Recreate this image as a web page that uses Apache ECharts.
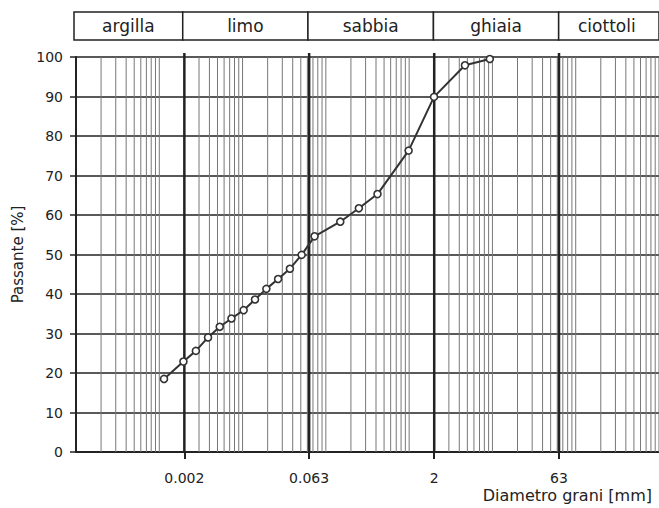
<!DOCTYPE html>
<html>
<head>
<meta charset="utf-8">
<script src="https://cdn.jsdelivr.net/npm/echarts@6/dist/echarts.min.js"></script>
<style>
html,body{margin:0;padding:0;background:#fff;}
#chart{width:659px;height:508px;}
</style>
</head>
<body>
<div id="chart"></div>
<script>
// ---- data ----
const grainSize = [0.00114, 0.00195, 0.00275, 0.00385, 0.00532, 0.00736, 0.0103, 0.0141, 0.0193, 0.0267, 0.037, 0.0512, 0.0732, 0.149, 0.249, 0.417, 0.986, 1.99, 4.68, 9.3];
const passing   = [18.5, 22.9, 25.6, 29.0, 31.7, 33.8, 35.9, 38.6, 41.3, 43.8, 46.4, 49.9, 54.6, 58.3, 61.7, 65.3, 76.3, 89.9, 97.9, 99.5];
const zoneNames  = ['argilla', 'limo', 'sabbia', 'ghiaia', 'ciottoli'];
const zoneBounds = [0.0001, 0.002, 0.063, 2, 63, 1000];
const xTickValues = [0.002, 0.063, 2, 63];
const xTickLabels = ['0.002', '0.063', '2', '63'];
const yMin = 0, yMax = 100, yStep = 10;
const xMin = 0.0001, xMax = 1000;
const yName = 'Passante [%]';
const xName = 'Diametro grani [mm]';

// minor log grid values 1..9 x 10^n
const minorValues = [];
for (let e = -4; e <= 2; e++) {
  for (let m = 1; m <= 9; m++) {
    const v = +(m * Math.pow(10, e)).toPrecision(3);
    if (v > xMin) minorValues.push(v);
  }
}
minorValues.push(xMax);

const FONT = 'DejaVu Sans';
const INK = '#222';

const pts = grainSize.map((g, i) => [g, passing[i]]);
const labelMap = {};
xTickValues.forEach((v, i) => { labelMap[v] = xTickLabels[i]; });

const gridLineData = minorValues.map(v => [v, 0]).concat(xTickValues.map(v => [v, 1]));
const zoneData = zoneNames.map((n, i) => [zoneBounds[i], zoneBounds[i + 1], n]);

function renderVLine(params, api) {
  const v = api.value(0);
  const major = api.value(1) === 1;
  const p0 = api.coord([v, yMin]);
  const p1 = api.coord([v, yMax]);
  return {
    type: 'line',
    shape: { x1: p0[0], y1: p0[1], x2: p1[0], y2: major ? p1[1] - 4 : p1[1] },
    style: { stroke: major ? INK : '#777', lineWidth: major ? 2.5 : 1 },
    z2: major ? 10 : 1
  };
}

function renderZone(params, api) {
  const a = api.coord([api.value(0), 1]);
  const b = api.coord([api.value(1), 0]);
  return {
    type: 'group',
    children: [
      { type: 'rect', shape: { x: a[0], y: a[1], width: b[0] - a[0], height: b[1] - a[1] },
        style: { fill: '#fff', stroke: INK, lineWidth: 1.5 } },
      { type: 'text', x: (a[0] + Math.min(b[0], 655)) / 2, y: (a[1] + b[1]) / 2,
        style: { text: zoneNames[params.dataIndex], fill: INK, font: '17px "DejaVu Sans"', align: 'center', verticalAlign: 'middle' } }
    ]
  };
}

const chart = echarts.init(document.getElementById('chart'), null, { renderer: 'svg' });
chart.setOption({
  animation: false,
  backgroundColor: '#fff',
  grid: [
    { left: 76, top: 57, width: 588, height: 395 },
    { left: 74, top: 12, width: 590, height: 28 }
  ],
  xAxis: [
    {
      type: 'log', gridIndex: 0, min: xMin, max: xMax, logBase: 10,
      axisLine: { show: true, onZero: false, lineStyle: { color: INK, width: 2 } },
      axisTick: { show: true, customValues: xTickValues, length: 7, lineStyle: { color: INK, width: 2 } },
      axisLabel: { show: true, customValues: xTickValues, margin: 19, color: INK, fontFamily: FONT, fontSize: 14,
        formatter: v => labelMap[v] !== undefined ? labelMap[v] : String(v) },
      splitLine: { show: false },
      minorTick: { show: false }, minorSplitLine: { show: false }
    },
    {
      type: 'log', gridIndex: 1, min: xMin, max: xMax, logBase: 10,
      axisLine: { show: false }, axisTick: { show: false }, axisLabel: { show: false }, splitLine: { show: false }
    }
  ],
  yAxis: [
    {
      type: 'value', gridIndex: 0, min: yMin, max: yMax, interval: yStep,
      name: yName, nameLocation: 'middle', nameGap: 50, nameRotate: 90,
      nameTextStyle: { color: INK, fontFamily: FONT, fontSize: 15 },
      axisLine: { show: true, lineStyle: { color: INK, width: 2 } },
      axisTick: { show: true, length: 6, lineStyle: { color: INK, width: 1.5 } },
      axisLabel: { margin: 13, color: INK, fontFamily: FONT, fontSize: 14 },
      splitLine: { show: true, lineStyle: { color: INK, width: 1.6 } }
    },
    {
      type: 'value', gridIndex: 1, min: 0, max: 1,
      axisLine: { show: false }, axisTick: { show: false }, axisLabel: { show: false }, splitLine: { show: false }
    }
  ],
  graphic: [
    { type: 'text', right: 7, bottom: 5, style: { text: xName, fill: INK, font: '16px "DejaVu Sans"' } }
  ],
  series: [
    {
      type: 'custom', xAxisIndex: 0, yAxisIndex: 0, data: gridLineData, silent: true, z: 1,
      renderItem: renderVLine, clip: false
    },
    {
      type: 'custom', xAxisIndex: 1, yAxisIndex: 1, data: zoneData, silent: true, z: 1,
      encode: { x: [0, 1] },
      renderItem: renderZone, clip: false
    },
    {
      type: 'line', xAxisIndex: 0, yAxisIndex: 0, data: pts, z: 5,
      symbol: 'circle', symbolSize: 7, showAllSymbol: true,
      lineStyle: { color: '#333', width: 2 },
      itemStyle: { color: '#fff', borderColor: '#333', borderWidth: 1.6 }
    }
  ]
});
</script>
</body>
</html>
